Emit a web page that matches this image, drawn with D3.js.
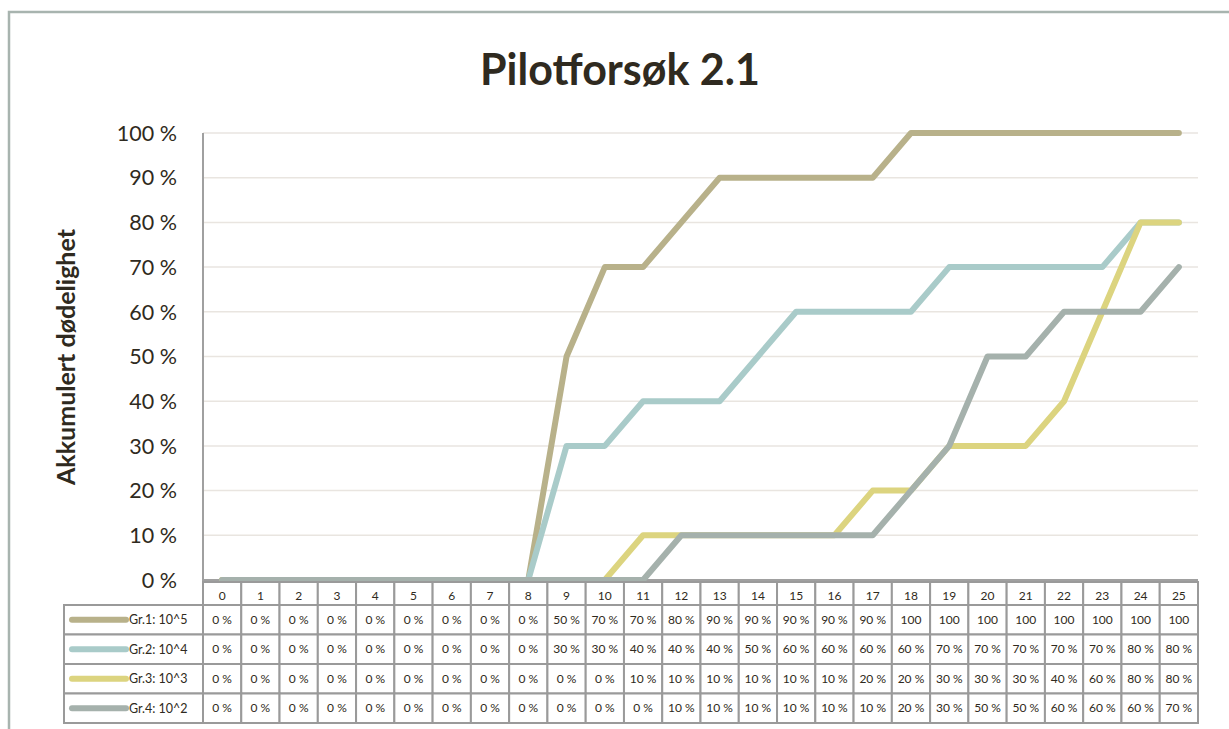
<!DOCTYPE html>
<html>
<head>
<meta charset="utf-8">
<script src="https://cdn.jsdelivr.net/npm/d3@7"></script>
<style>
  body { margin: 0; background: #fff; }
  svg { display: block; font-family: Lato, "Open Sans", sans-serif; }
</style>
</head>
<body>
<div id="chart"></div>
<script>
// days along the x axis
const days = d3.range(0, 26).map(String);
const groups = ['Gr.1: 10^5', 'Gr.2: 10^4', 'Gr.3: 10^3', 'Gr.4: 10^2'];
const colors = ['#b8b18a', '#a9cbc9', '#dcd47f', '#a5b1ac'];

// cumulative mortality, percent
const gr1 = [0, 0, 0, 0, 0, 0, 0, 0, 0, 50, 70, 70, 80, 90, 90, 90, 90, 90, 100, 100, 100, 100, 100, 100, 100, 100];
const gr2 = [0, 0, 0, 0, 0, 0, 0, 0, 0, 30, 30, 40, 40, 40, 50, 60, 60, 60, 60, 70, 70, 70, 70, 70, 80, 80];
const gr3 = [0, 0, 0, 0, 0, 0, 0, 0, 0, 0, 0, 10, 10, 10, 10, 10, 10, 20, 20, 30, 30, 30, 40, 60, 80, 80];
const gr4 = [0, 0, 0, 0, 0, 0, 0, 0, 0, 0, 0, 0, 10, 10, 10, 10, 10, 10, 20, 30, 50, 50, 60, 60, 60, 70];
const series = [gr1, gr2, gr3, gr4];
const yTicks = [0, 10, 20, 30, 40, 50, 60, 70, 80, 90, 100];

const width = 1229, height = 729;
const plot = { left: 203, right: 1198, top: 133, bottom: 580 };

const svg = d3.select('#chart').append('svg')
    .attr('width', width)
    .attr('height', height);

// outer frame
svg.append('path')
    .attr('d', 'M9,' + height + ' V12 H' + (width + 5))
    .attr('fill', 'none')
    .attr('stroke', '#a8b4af')
    .attr('stroke-width', 2.5);

svg.append('text')
    .attr('x', 620)
    .attr('y', 85)
    .attr('text-anchor', 'middle')
    .attr('font-size', 43)
    .attr('font-weight', 'bold')
    .attr('fill', '#2f2a20')
    .text('Pilotforsøk 2.1');

var x = d3.scaleBand().domain(days).range([plot.left, plot.right]);
var y = d3.scaleLinear().domain([0, 100]).range([plot.bottom, plot.top]);

// gridlines
svg.selectAll('.grid')
    .data(yTicks.filter(d => d > 0))
  .enter().append('line')
    .attr('x1', plot.left)
    .attr('x2', plot.right)
    .attr('y1', d => y(d))
    .attr('y2', d => y(d))
    .attr('stroke', '#e9e5e0')
    .attr('stroke-width', 1.5);

svg.selectAll('.ytick')
    .data(yTicks)
  .enter().append('text')
    .attr('x', 177)
    .attr('y', d => y(d))
    .attr('dy', '0.36em')
    .attr('text-anchor', 'end')
    .attr('font-size', 21.5)
    .attr('fill', '#2f2a20')
    .text(d => d + ' %');

svg.append('text')
    .attr('transform', 'translate(75,357) rotate(-90)')
    .attr('text-anchor', 'middle')
    .attr('font-size', 25)
    .attr('font-weight', 'bold')
    .attr('fill', '#2f2a20')
    .text('Akkumulert dødelighet');

// axis lines
svg.append('path')
    .attr('d', 'M' + plot.left + ',' + plot.top + ' V' + plot.bottom + ' H' + plot.right)
    .attr('fill', 'none')
    .attr('stroke', '#a0a0a0')
    .attr('stroke-width', 2);

var line = d3.line()
    .x((d, i) => x(days[i]) + x.bandwidth() / 2)
    .y(d => y(d));

svg.selectAll('.series')
    .data(series)
  .enter().append('path')
    .attr('d', line)
    .attr('fill', 'none')
    .attr('stroke', (d, i) => colors[i])
    .attr('stroke-width', 6)
    .attr('stroke-linecap', 'round')
    .attr('stroke-linejoin', 'round');

// data table
var headTop = 582, headH = 23, rowH = 29.5, tableLeft = 64;
var border = '#9a9a9a';

var head = svg.append('g');
head.selectAll('rect')
    .data(days)
  .enter().append('rect')
    .attr('x', d => x(d))
    .attr('y', headTop)
    .attr('width', x.bandwidth())
    .attr('height', headH)
    .attr('fill', '#fff')
    .attr('stroke', border)
    .attr('stroke-width', 2);
head.selectAll('text')
    .data(days)
  .enter().append('text')
    .attr('x', d => x(d) + x.bandwidth() / 2)
    .attr('y', headTop + headH / 2 + 2)
    .attr('dy', '0.35em')
    .attr('text-anchor', 'middle')
    .attr('font-size', 12)
    .attr('fill', '#2f2a20')
    .text(d => d);

var rows = svg.selectAll('.row')
    .data(series)
  .enter().append('g')
    .attr('transform', (d, i) => 'translate(0,' + (headTop + headH + i * rowH) + ')');

rows.append('rect')
    .attr('x', tableLeft)
    .attr('y', 0)
    .attr('width', plot.left - tableLeft)
    .attr('height', rowH)
    .attr('fill', '#fff')
    .attr('stroke', border)
    .attr('stroke-width', 2);

rows.append('line')
    .attr('x1', 72)
    .attr('x2', 126)
    .attr('y1', rowH / 2)
    .attr('y2', rowH / 2)
    .attr('stroke', (d, i) => colors[i])
    .attr('stroke-width', 6)
    .attr('stroke-linecap', 'round');

rows.append('text')
    .attr('x', 129)
    .attr('y', rowH / 2)
    .attr('dy', '0.35em')
    .attr('font-size', 12.5)
    .attr('fill', '#2f2a20')
    .text((d, i) => groups[i]);

rows.selectAll('.cell')
    .data(d => d.map((v, i) => ({ v: v, day: days[i] })))
  .enter().append('rect')
    .attr('x', d => x(d.day))
    .attr('y', 0)
    .attr('width', x.bandwidth())
    .attr('height', rowH)
    .attr('fill', '#fff')
    .attr('stroke', border)
    .attr('stroke-width', 2);

rows.selectAll('.val')
    .data(d => d.map((v, i) => ({ v: v, day: days[i] })))
  .enter().append('text')
    .attr('x', d => x(d.day) + x.bandwidth() / 2)
    .attr('y', rowH / 2)
    .attr('dy', '0.35em')
    .attr('text-anchor', 'middle')
    .attr('font-size', 12)
    .attr('fill', '#2f2a20')
    .text(d => d.v === 100 ? '100' : d.v + ' %');
</script>
</body>
</html>
